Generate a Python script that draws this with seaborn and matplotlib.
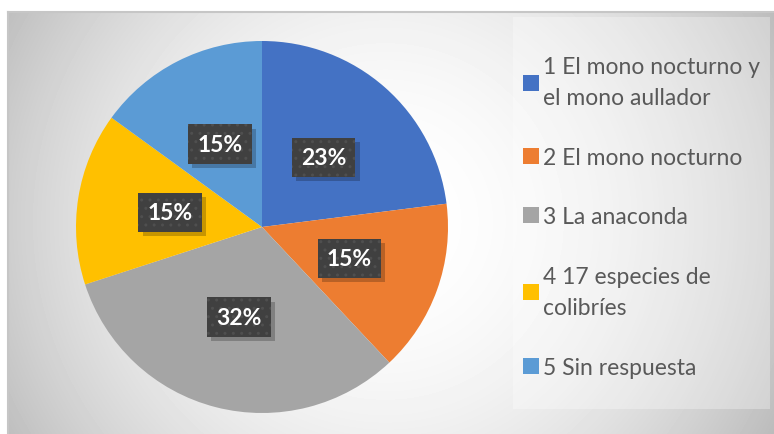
import numpy as np
import matplotlib
matplotlib.use("Agg")
import matplotlib.pyplot as plt
import matplotlib.patheffects as pe
from matplotlib.patches import Rectangle
import seaborn as sns

categories = [
    "1 El mono nocturno y\nel mono aullador",
    "2 El mono nocturno",
    "3 La anaconda",
    "4 17 especies de\ncolibríes",
    "5 Sin respuesta",
]
values = [23, 15, 32, 15, 15]
colors = ["#4472C4", "#ED7D31", "#A5A5A5", "#FFC000", "#5B9BD5"]

sns.set_theme(style="white")
plt.rcParams["font.family"] = ["Lato", "DejaVu Sans"]
plt.rcParams["hatch.linewidth"] = 1.0


class FlatShadow(pe.SimplePatchShadow):
    # shadow without the hatch of the box
    def draw_path(self, renderer, gc, tpath, affine, rgbFace):
        gc0 = renderer.new_gc()
        gc0.copy_properties(gc)
        gc0.set_hatch(None)
        super().draw_path(renderer, gc0, tpath, affine, rgbFace)
        gc0.restore()


W, H = 774, 435
fig = plt.figure(figsize=(W / 100, H / 100), dpi=100)
fig.patch.set_facecolor("white")

# chart area with a soft radial gradient
bg = fig.add_axes([8 / W, 0, (W - 8) / W, (H - 13) / H])
gh, gw = H - 13, W - 8
yy, xx = np.mgrid[0:gh, 0:gw]
r = np.sqrt((xx - 377) ** 2 + (yy - 209) ** 2)
grad = np.clip(1 - 0.25 * (r / 430) ** 2, 0, 1)
bg.imshow(grad, cmap="gray", vmin=0, vmax=1, aspect="auto",
          extent=(0, gw, gh, 0), interpolation="bilinear")
bg.set_xlim(0, gw)
bg.set_ylim(gh, 0)
bg.set_xticks([])
bg.set_yticks([])
for side in ["bottom", "right"]:
    bg.spines[side].set_visible(False)
for side in ["top", "left"]:
    bg.spines[side].set_color("#c6c6c6")
    bg.spines[side].set_linewidth(1.5)
# lighter legend panel
bg.add_patch(Rectangle((513 - 8, 18 - 13), 257, 392, facecolor="white",
                       alpha=0.3, edgecolor="none"))

# pie
cx, cy, rad = 262, H - 228, 186
ax = fig.add_axes([(cx - rad) / W, (cy - rad) / H, 2 * rad / W, 2 * rad / H])
pal = sns.color_palette(colors)
wedges, texts, autotexts = ax.pie(
    values, colors=pal, startangle=90, counterclock=False,
    autopct=lambda p: f"{p:.0f}%", pctdistance=0.5,
    wedgeprops=dict(linewidth=0),
    textprops=dict(color="white", fontsize=16.5, fontweight="bold"),
)
ax.set_xlim(-1, 1)
ax.set_ylim(-1, 1)
ax.set_aspect("equal")

for t in autotexts:
    t.set_bbox(dict(boxstyle="square,pad=0.4", facecolor="#404040",
                    edgecolor="#4f4f4f", linewidth=0, hatch=".."))
    t.get_bbox_patch().set_path_effects(
        [FlatShadow(offset=(3, -3), shadow_rgbFace="#000000", alpha=0.22),
         pe.Normal()])

leg = fig.legend(
    wedges, categories, loc="upper left",
    bbox_to_anchor=(514 / W, 1 - 48 / H),
    frameon=False, fontsize=16.5, labelcolor="#595959",
    handlelength=0.7, handleheight=0.7, handletextpad=0.15,
    labelspacing=1.68, borderaxespad=0,
)
for t in leg.get_texts():
    t.set_linespacing(1.6)

fig.savefig("out.png", dpi=100)
